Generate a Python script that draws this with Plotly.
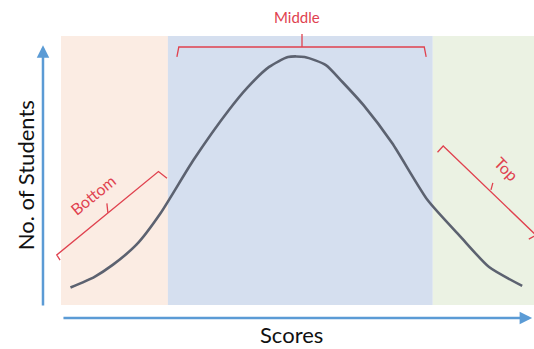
import plotly.graph_objects as go

# scores (0-100) and number of students (0-100 scale, band top = 100)
scores = [2, 7, 11, 16, 21, 28, 35.5, 39.5, 44, 48, 51.5, 56, 59.5, 64, 70, 77.5, 84.5, 90.5, 97.5]
students = [6.5, 10.4, 15.0, 22.5, 34.0, 53.9, 72.5, 81.0, 88.5, 92.2, 92.2, 89.2, 82.9, 74.2, 60.2, 39.0, 25.3, 14.1, 7.1]

band_names = ["Bottom", "Middle", "Top"]
band_start = [0, 22.6, 78.6]
band_end = [22.6, 78.6, 100]
band_colors = ["#fbece3", "#d5dfef", "#ebf2e3"]

RED = "#e0424f"
AXIS_BLUE = "#5b9bd5"
FONT = "Lato"

fig = go.Figure()

fig.add_trace(go.Scatter(
    x=scores, y=students, mode="lines",
    line=dict(color="#5c6270", width=2.6, shape="spline", smoothing=0.6),
    hoverinfo="skip", showlegend=False,
))

shapes = []
for x0, x1, c in zip(band_start, band_end, band_colors):
    shapes.append(dict(type="rect", xref="x", yref="y", x0=x0, x1=x1, y0=0, y1=100,
                       fillcolor=c, line_width=0, layer="below"))

# brackets
brackets = [
    "M 24.5,92.2 L 24.9,95.9 L 76.8,95.9 L 77.2,92.2 M 50.95,95.9 L 50.95,100.7",
    "M -0.2,16.7 L -0.9,18.6 L 20.6,49.6 L 22.4,47.1 M 9.9,34.4 L 9.7,37.8",
    "M 79.6,56.8 L 80.8,59.1 L 100.4,26.0 L 98.9,24.5 M 90.9,42.8 L 91.3,45.4",
]
for p in brackets:
    shapes.append(dict(type="path", xref="x", yref="y", path=p,
                       line=dict(color=RED, width=1.3)))

annotations = [
    # axis arrows
    dict(x=-3.81, y=96.6, ax=-3.81, ay=-0.74, xref="x", yref="y", axref="x", ayref="y",
         text="", showarrow=True, arrowhead=2, arrowsize=1, arrowwidth=2.5, arrowcolor=AXIS_BLUE),
    dict(x=99.6, y=-4.83, ax=0.2, ay=-4.83, xref="x", yref="y", axref="x", ayref="y",
         text="", showarrow=True, arrowhead=2, arrowsize=1, arrowwidth=2.5, arrowcolor=AXIS_BLUE),
    # titles
    dict(x=-7.6, y=48.3, xref="x", yref="y", text="No. of Students", showarrow=False,
         textangle=-90, font=dict(family=FONT, size=22, color="#111111")),
    dict(x=48.8, y=-11.15, xref="x", yref="y", text="Scores", showarrow=False,
         font=dict(family=FONT, size=22, color="#111111")),
    # bracket labels
    dict(x=49.9, y=107.1, xref="x", yref="y", text=band_names[1], showarrow=False,
         font=dict(family=FONT, size=15, color=RED)),
    dict(x=6.8, y=40.9, xref="x", yref="y", text=band_names[0], showarrow=False,
         textangle=-39, font=dict(family=FONT, size=16, color=RED)),
    dict(x=94.2, y=50.8, xref="x", yref="y", text=band_names[2], showarrow=False,
         textangle=45, font=dict(family=FONT, size=16, color=RED)),
]

fig.update_layout(
    width=534, height=349,
    margin=dict(l=0, r=0, t=0, b=0),
    paper_bgcolor="white", plot_bgcolor="white",
    xaxis=dict(range=[-12.9, 100], visible=False, fixedrange=True),
    yaxis=dict(range=[-16.36, 113.38], visible=False, fixedrange=True),
    shapes=shapes,
    annotations=annotations,
)

fig.write_html("out.html", config={"displayModeBar": False},
               post_script="document.body.style.margin='0';")
